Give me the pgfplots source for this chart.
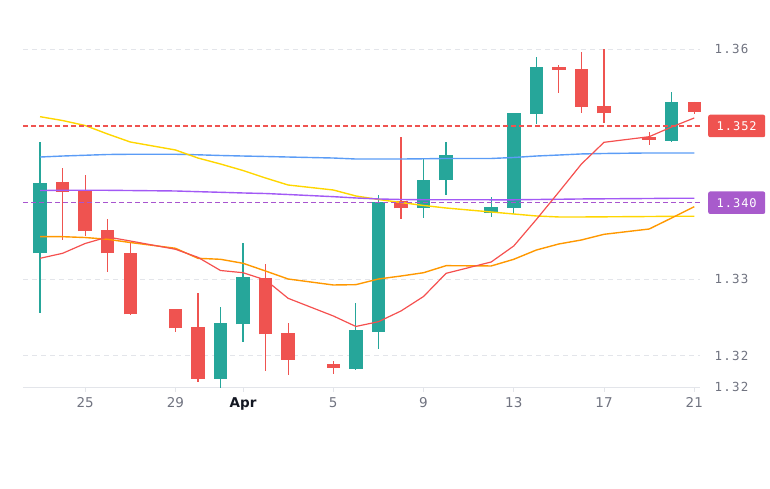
\documentclass[border=0pt]{standalone}
\usepackage{pgfplots}
\pgfplotsset{compat=1.18}
\usepackage{pgfplotstable}
\usepackage{fontspec}
\setmainfont{DejaVu Sans}
\newfontfamily\ymono[LetterSpace=10]{DejaVu Sans Mono}
\newfontfamily\bmono[LetterSpace=8]{DejaVu Sans Mono}

\definecolor{cgreen}{HTML}{26A69A}
\definecolor{cred}{HTML}{EF5350}
\definecolor{mablue}{HTML}{5B9CF6}
\definecolor{mayellow}{HTML}{FFD600}
\definecolor{mapurple}{HTML}{A259F5}
\definecolor{maorange}{HTML}{FF9800}
\definecolor{mared}{HTML}{F5504F}
\definecolor{dashred}{HTML}{EF5350}
\definecolor{dashpurple}{HTML}{A855CF}
\definecolor{boxpurple}{HTML}{A85BCC}
\definecolor{tickgray}{HTML}{707380}
\definecolor{gridgray}{HTML}{E3E5EA}
\definecolor{aprcol}{HTML}{131722}

% green (rising) candles: day index, open, high, low, close
\pgfplotstableread{
d o h l c
0 1.33335 1.34791 1.32561 1.34248
8 1.31696 1.32631 1.31578 1.32430
9 1.32409 1.33466 1.32174 1.33022
14 1.31830 1.32683 1.31825 1.32335
15 1.32309 1.34096 1.32083 1.34008
17 1.33930 1.34582 1.33800 1.34291
18 1.34291 1.34791 1.34096 1.34617
20 1.33865 1.34074 1.33813 1.33943
21 1.33930 1.35161 1.33844 1.35161
22 1.35152 1.35900 1.35018 1.35761
28 1.34800 1.35443 1.34783 1.35313
}\greentab

% red (falling) candles
\pgfplotstableread{
d o h l c
1 1.34261 1.34452 1.33509 1.34139
2 1.34152 1.34357 1.33561 1.33626
3 1.33639 1.33779 1.33088 1.33335
4 1.33343 1.33466 1.32535 1.32540
6 1.32605 1.32605 1.32313 1.32357
7 1.32378 1.32821 1.31661 1.31696
10 1.33017 1.33196 1.31800 1.32279
11 1.32292 1.32422 1.31748 1.31944
13 1.31888 1.31931 1.31761 1.31843
16 1.34017 1.34848 1.33779 1.33922
23 1.35761 1.35791 1.35422 1.35726
24 1.35739 1.35957 1.35161 1.35247
25 1.35260 1.35996 1.35039 1.35161
27 1.34856 1.34921 1.34748 1.34813
29 1.35313 1.35313 1.35148 1.35182
}\redtab

% moving averages
\pgfplotstableread{
d blue yellow purple orange red
0 1.34591 1.35117 1.34154 1.33552 1.33270
1 1.34604 1.35067 1.34157 1.33552 1.33335
2 1.34614 1.35002 1.34158 1.33541 1.33463
3 1.34624 1.34891 1.34157 1.33518 1.33548
4 1.34627 1.34787 1.34154 1.33476 1.33496
6 1.34627 1.34683 1.34148 1.33401 1.33388
7 1.34620 1.34578 1.34139 1.33270 1.33283
8 1.34611 1.34500 1.34131 1.33257 1.33111
9 1.34604 1.34415 1.34122 1.33205 1.33082
10 1.34598 1.34317 1.34115 1.33104 1.32987
11 1.34591 1.34226 1.34102 1.33000 1.32748
13 1.34578 1.34161 1.34074 1.32922 1.32518
14 1.34565 1.34083 1.34057 1.32926 1.32381
15 1.34565 1.34037 1.34044 1.33000 1.32443
16 1.34565 1.33998 1.34037 1.33039 1.32583
17 1.34568 1.33959 1.34034 1.33082 1.32772
18 1.34572 1.33926 1.34034 1.33174 1.33074
20 1.34572 1.33874 1.34033 1.33170 1.33222
21 1.34585 1.33848 1.34033 1.33257 1.33431
22 1.34604 1.33822 1.34037 1.33378 1.33776
23 1.34617 1.33809 1.34040 1.33457 1.34135
24 1.34631 1.33809 1.34044 1.33509 1.34500
25 1.34637 1.33811 1.34046 1.33583 1.34783
27 1.34644 1.33815 1.34050 1.33652 1.34856
28 1.34644 1.33818 1.34053 1.33796 1.34983
29 1.34644 1.33818 1.34053 1.33943 1.35100
}\matab

\begin{document}
\begin{tikzpicture}[x=1pt,y=1pt]
\useasboundingbox (0,0) rectangle (770,489);
\begin{axis}[
  at={(23pt,102pt)}, anchor=south west,
  scale only axis, width=677pt, height=387pt,
  xmin=-0.754, xmax=29.255,
  ymin=1.315915, ymax=1.366391,
  clip=false,
  axis x line*=bottom, axis y line*=right,
  x axis line style={draw=gridgray, line width=0.8pt},
  y axis line style={draw=none},
  ytick={1.315915,1.32,1.33,1.36},
  yticklabels={1.32,1.32,1.33,1.36},
  ytick style={draw=none},
  yticklabel style={anchor=west, xshift=6pt, text=tickgray, font=\ymono\fontsize{12.5}{14}\selectfont},
  ymajorgrids,
  grid style={gridgray, line width=0.8pt, dash pattern=on 5pt off 4pt},
  xtick={2,6,9,13,17,21,25,29},
  xticklabels={25,29,{\color{aprcol}\bfseries Apr},5,9,13,17,21},
  xtick style={draw=gridgray, line width=0.8pt},
  tick align=outside, major tick length=5pt,
  xticklabel style={text=tickgray, font=\fontsize{13.5}{15}\selectfont, yshift=-2pt},
  scaled y ticks=false,
]
% wicks
\addplot[forget plot, draw=none, mark=none,
  error bars/.cd, y dir=both, y explicit, error mark=none,
  error bar style={draw=cgreen, line width=1.2pt}]
  table[x=d, y=o, y error plus expr={\thisrow{h}-\thisrow{o}}, y error minus expr={\thisrow{o}-\thisrow{l}}] {\greentab};
\addplot[forget plot, draw=none, mark=none,
  error bars/.cd, y dir=both, y explicit, error mark=none,
  error bar style={draw=cred, line width=1.2pt}]
  table[x=d, y=o, y error plus expr={\thisrow{h}-\thisrow{o}}, y error minus expr={\thisrow{o}-\thisrow{l}}] {\redtab};
% bodies
\addplot[forget plot, draw=none, mark=none,
  error bars/.cd, y dir=plus, y explicit, error mark=none,
  error bar style={draw=cgreen, line width=13.5pt}]
  table[x=d, y=o, y error plus expr={\thisrow{c}-\thisrow{o}}] {\greentab};
\addplot[forget plot, draw=none, mark=none,
  error bars/.cd, y dir=plus, y explicit, error mark=none,
  error bar style={draw=cred, line width=13.5pt}]
  table[x=d, y=c, y error plus expr={\thisrow{o}-\thisrow{c}}] {\redtab};
% moving averages
\addplot[mablue, line width=1.4pt, mark=none] table[x=d, y=blue] {\matab};
\addplot[mayellow, line width=1.4pt, mark=none] table[x=d, y=yellow] {\matab};
\addplot[mapurple, line width=1.4pt, mark=none] table[x=d, y=purple] {\matab};
\addplot[maorange, line width=1.4pt, mark=none] table[x=d, y=orange] {\matab};
\addplot[mared, line width=1.2pt, mark=none] table[x=d, y=red] {\matab};
% price lines
\addplot[dashred, line width=1.3pt, dash pattern=on 5pt off 3pt, mark=none] coordinates {(-0.754,1.34996) (29.255,1.34996)};
\addplot[dashpurple, line width=1.3pt, dash pattern=on 5pt off 3pt, mark=none] coordinates {(-0.754,1.33995) (29.255,1.33995)};
\node[fill=dashred, text=white, rounded corners=2pt, minimum width=57pt, minimum height=22.5pt, inner sep=0pt, anchor=west, xshift=8pt, font=\bmono\fontsize{12}{14}\selectfont] at (axis cs:29.255,1.34996) {1.352};
\node[fill=boxpurple, text=white, rounded corners=2pt, minimum width=57pt, minimum height=22.5pt, inner sep=0pt, anchor=west, xshift=8pt, font=\bmono\fontsize{12}{14}\selectfont] at (axis cs:29.255,1.33995) {1.340};
\end{axis}
\end{tikzpicture}
\end{document}
